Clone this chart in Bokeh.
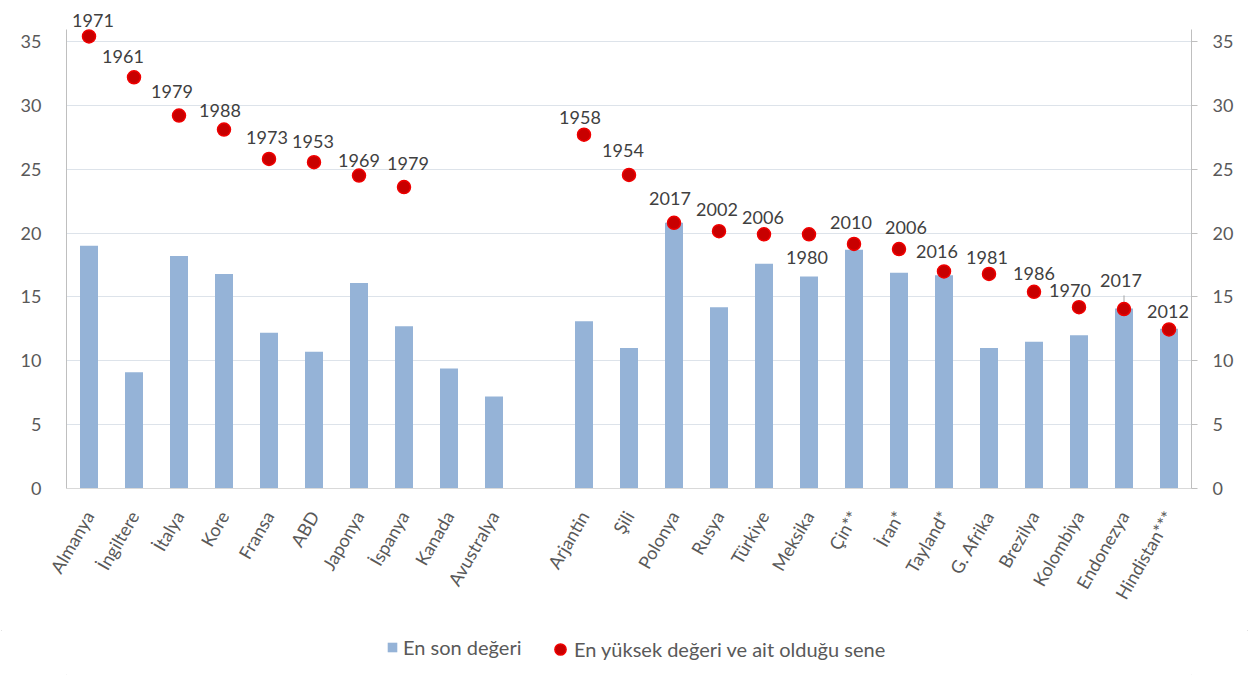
from math import pi
from bokeh.plotting import figure
from bokeh.layouts import column
from bokeh.models import (FactorRange, Range1d, LinearAxis, FixedTicker, Legend,
                          LegendItem, ColumnDataSource)
from bokeh.core.properties import value
from bokeh.embed import file_html
from bokeh.resources import INLINE

# ---------------- data ----------------
countries = ["Almanya", "İngiltere", "İtalya", "Kore", "Fransa", "ABD", "Japonya",
             "İspanya", "Kanada", "Avustralya", " ",
             "Arjantin", "Şili", "Polonya", "Rusya", "Türkiye", "Meksika", "Çin**",
             "İran*", "Tayland*", "G. Afrika", "Brezilya", "Kolombiya", "Endonezya",
             "Hindistan***"]
latest = [19.0, 9.1, 18.2, 16.8, 12.2, 10.7, 16.1, 12.7, 9.4, 7.2, None,
          13.1, 11.0, 20.8, 14.2, 17.6, 16.6, 18.7, 16.9, 16.7, 11.0, 11.5, 12.0, 14.1, 12.5]
peak_countries = ["Almanya", "İngiltere", "İtalya", "Kore", "Fransa", "ABD", "Japonya",
                  "İspanya", "Arjantin", "Şili", "Polonya", "Rusya", "Türkiye", "Meksika",
                  "Çin**", "İran*", "Tayland*", "G. Afrika", "Brezilya", "Kolombiya",
                  "Endonezya", "Hindistan***"]
peak = [35.4, 32.2, 29.2, 28.1, 25.8, 25.55, 24.5, 23.6, 27.7, 24.55, 20.8, 20.15,
        19.9, 19.9, 19.15, 18.75, 17.0, 16.8, 15.4, 14.2, 14.05, 12.45]
peak_year = ["1971", "1961", "1979", "1988", "1973", "1953", "1969", "1979", "1958",
             "1954", "2017", "2002", "2006", "1980", "2010", "2006", "2016", "1981",
             "1986", "1970", "2017", "2012"]
y_ticks = [0, 5, 10, 15, 20, 25, 30, 35]
legend_labels = ["En son değeri", "En yüksek değeri ve ait olduğu sene"]

# label placement (screen pixels relative to each dot)
lab_dx = [4, -11, -7, -4, -2, -1, 0, 4, -4, -6, -4, -2, -1, -2, -3, 7, -7, -2, 0, -9, -3, -1]
lab_dy = [-16, -21, -24, -19, -21, -21, -15, -24, -17, -24, -24, -22, -17, 23, -21, -22,
          -20, -16, -18, -17, -29, -18]

FONT = "Lato"
BAR = "#95B3D7"
DOT_FILL = "#C80000"
DOT_LINE = "#F00000"

p = figure(width=1249, height=630, output_backend="svg", toolbar_location=None,
           x_range=FactorRange(*countries), y_range=Range1d(0, 37.27),
           min_border_left=66, min_border_right=58, min_border_top=12,
           min_border_bottom=142, background_fill_color="white",
           border_fill_color="white")
p.outline_line_color = None
p.xgrid.grid_line_color = None
p.ygrid.ticker = FixedTicker(ticks=y_ticks)
p.ygrid.grid_line_color = "#DDE3EA"
p.ygrid.grid_line_width = 1

# left axis
ya = p.yaxis[0]
ya.ticker = FixedTicker(ticks=y_ticks)
ya.bounds = (0, 35.9)
ya.axis_line_color = "#BFBFBF"
ya.major_tick_line_color = None
ya.minor_tick_line_color = None
ya.major_label_standoff = 19
ya.major_label_text_font = FONT
ya.major_label_text_font_size = "18px"
ya.major_label_text_color = "#595959"

# right axis
ra = LinearAxis(ticker=FixedTicker(ticks=y_ticks), bounds=(0, 35.9))
ra.axis_line_color = "#BFBFBF"
ra.major_tick_line_color = "#BFBFBF"
ra.major_tick_out = 6
ra.major_tick_in = 0
ra.minor_tick_line_color = None
ra.major_label_standoff = 15
ra.major_label_text_font = FONT
ra.major_label_text_font_size = "18px"
ra.major_label_text_color = "#595959"
p.add_layout(ra, "right")

# bottom axis
xa = p.xaxis[0]
xa.axis_line_color = "#D9D9D9"
xa.major_tick_line_color = None
xa.minor_tick_line_color = None
xa.major_label_orientation = pi / 3
xa.major_label_standoff = 18
xa.major_label_text_font = FONT
xa.major_label_text_font_size = "18px"
xa.major_label_text_color = "#595959"

p.vbar(x=countries, top=latest, width=0.4, fill_color=BAR, line_color=None)

src = ColumnDataSource(dict(x=peak_countries, y=peak, t=peak_year, dx=lab_dx, dy=lab_dy))

# leader line for Endonezya label
ei = peak_countries.index("Endonezya")
p.segment(x0=[peak_countries[ei]], y0=[peak[ei] + 0.4], x1=[peak_countries[ei]],
          y1=[peak[ei] + 1.07], line_color="#A6A6A6", line_width=1)

p.scatter(x="x", y="y", source=src, size=13, fill_color=DOT_FILL,
          line_color=DOT_LINE, line_width=1.5)
p.text(x="x", y="y", text="t", source=src, x_offset="dx", y_offset="dy",
       text_align="center", text_baseline="middle", text_font=value(FONT),
       text_font_size="18px", text_color="#404040")

# ---------------- legend strip ----------------
# same series drawn again, far outside this strip's view, only to feed the legend
lg = figure(width=1249, height=46, output_backend="svg", toolbar_location=None,
            x_range=FactorRange(*countries), y_range=Range1d(1000, 1001),
            x_axis_type=None, y_axis_type=None, min_border=0,
            background_fill_color="white", border_fill_color="white")
lg.outline_line_color = None
lg.xgrid.visible = False
lg.ygrid.visible = False
r_bar = lg.vbar(x=countries, top=latest, width=0.4, fill_color=BAR, line_color=None)
r_dot = lg.scatter(x=peak_countries, y=peak, size=13, fill_color=DOT_FILL,
                   line_color=DOT_LINE, line_width=1.5)

common = dict(orientation="horizontal", padding=0, margin=0, border_line_color=None,
              background_fill_alpha=0, label_text_font=FONT, label_text_font_size="20px",
              label_text_color="#595959")
leg1 = Legend(items=[LegendItem(label=legend_labels[0], renderers=[r_bar])],
              location=(320, 17), glyph_width=12, glyph_height=12, label_height=12,
              label_standoff=5, **common)
leg2 = Legend(items=[LegendItem(label=legend_labels[1], renderers=[r_dot])],
              location=(480, 13), glyph_width=28, glyph_height=28, label_height=12,
              label_standoff=0, **common)
lg.add_layout(leg1, "center")
lg.add_layout(leg2, "center")

layout = column(p, lg, spacing=0)
layout.styles = {"outline": "1px solid #D9D9D9", "outline-offset": "-2px"}
open("out.html", "w").write(file_html(layout, INLINE))
